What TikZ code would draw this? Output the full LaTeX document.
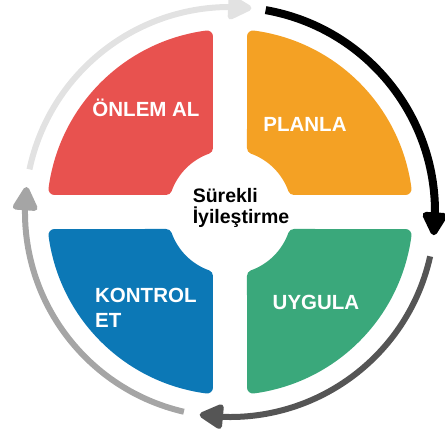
\documentclass[tikz,border=0pt]{standalone}
\usepackage{fontspec}
\setmainfont{Liberation Sans}
\usetikzlibrary{arrows.meta,positioning,bending}
\definecolor{onlemred}{HTML}{E8524F}
\definecolor{planorange}{HTML}{F4A124}
\definecolor{uygulagreen}{HTML}{3AA87B}
\definecolor{kontrolblue}{HTML}{0C78B6}
\definecolor{ringlight}{HTML}{E2E2E2}
\definecolor{ringdark}{HTML}{555555}
\definecolor{ringmid}{HTML}{A5A5A5}
\tikzset{
  >={Triangle[width=27pt,length=27pt,round]},
  quadrant/.style={line width=12pt, line join=round},
  ring/.style={line width=#1, ->},
  phase/.style={text=white, inner sep=0pt, align=left,
    font=\bfseries\fontsize{20.5}{25}\selectfont},
  centre/.style={text=black, inner sep=0pt, align=left,
    font=\bfseries\fontsize{19.5}{21}\selectfont},
}
\begin{document}
\begin{tikzpicture}[x=1pt, y=1pt]
  \useasboundingbox (-230,-227) rectangle (215,212);

  % four quarters, top left one turned round
  \foreach \ang/\col in {0/onlemred, -90/planorange, -180/uygulagreen, -270/kontrolblue}{
    \begin{scope}[rotate=\ang]
      \filldraw[\col, quadrant] (97.47:177) arc[start angle=97.47, end angle=172.53, radius=177]
        -- (160.23:68) arc[start angle=160.23, end angle=109.77, radius=68] -- cycle;
    \end{scope}
  }

  % the ring of arrows
  \draw[ring=6pt, ringlight] (168:205) arc[start angle=168, end angle=84, radius=205];
  \draw[ring=8pt, black] (80:205) arc[start angle=80, end angle=-6.5, radius=205];
  \draw[ring=6pt, ringdark] (-12.5:205) arc[start angle=-12.5, end angle=-98.5, radius=205];
  \draw[ring=6pt, ringmid] (-103:205) arc[start angle=-103, end angle=-187, radius=205];

  \node[phase] (onlem) at (-84,104) {ÖNLEM AL};
  \node[phase] (planla) at (75,88) {PLANLA};
  \node[phase] (uygula) at (86,-90) {UYGULA};
  \node[phase, anchor=west] (kontrol) at (-135,-96) {KONTROL\\ET};
  \node[centre] (surekli) at (11,4) {Sürekli\\İyileştirme};
\end{tikzpicture}
\end{document}
